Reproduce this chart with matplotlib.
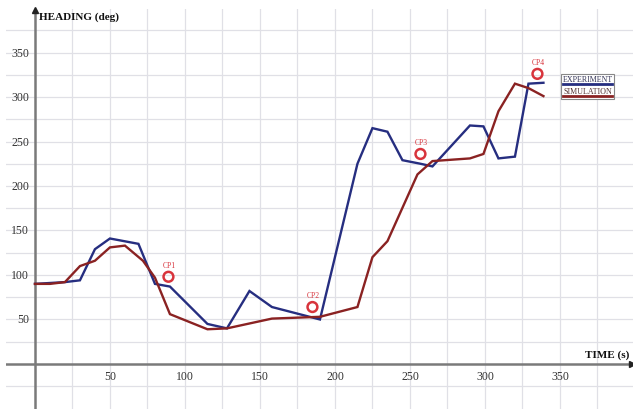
import matplotlib
matplotlib.use("Agg")
import matplotlib.pyplot as plt
from matplotlib.transforms import offset_copy
from matplotlib.patches import Rectangle

# Heading vs time for the experiment and the simulation
exp_time = [0, 20, 30, 40, 50, 69, 80, 90, 115, 128, 143, 158, 190, 215, 225, 235,
            245, 257, 265, 290, 299, 309, 320, 329, 339]
exp_heading = [90, 92, 94, 129, 141, 135, 90, 87, 45, 40, 82, 64, 50, 225, 265, 261,
               229, 225, 222, 268, 267, 231, 233, 315, 316]

sim_time = [0, 10, 20, 30, 40, 50, 60, 72, 80, 90, 115, 128, 158, 190, 215, 225,
            235, 255, 265, 290, 299, 309, 320, 329, 339]
sim_heading = [90, 90, 92, 110, 116, 131, 133, 116, 97, 56, 39, 40, 51, 53, 64, 120,
               138, 213, 228, 231, 236, 284, 315, 310, 301]

# Checkpoints
cp_names = ["CP1", "CP2", "CP3", "CP4"]
cp_time = [89, 185, 257, 335]
cp_heading = [98, 64, 236, 326]

x_ticks = [50, 100, 150, 200, 250, 300, 350]
y_ticks = [50, 100, 150, 200, 250, 300, 350]

BLUE = "#262e80"
RED = "#8a2222"
CP_RED = "#d8343c"
SERIF = "Liberation Serif"

fig = plt.figure(figsize=(6.33, 4.10), dpi=100)
ax = fig.add_axes([6 / 633, 0, 627 / 633, 400 / 410])
ax.set_xlim(-19.3, 398.7)
ax.set_ylim(-50.6, 398.9)
for s in ax.spines.values():
    s.set_visible(False)
ax.set_xticks([])
ax.set_yticks([])

# Grid every 25 units
for gx in range(25, 400, 25):
    ax.axvline(gx, color="#e0e0e6", lw=0.9, zorder=0)
for gy in range(-25, 400, 25):
    if gy != 0:
        ax.axhline(gy, color="#e0e0e6", lw=0.9, zorder=0)

# Axes through the origin with arrowheads
ax.axhline(0, color="#7a7a7a", lw=1.8, zorder=1)
ax.axvline(0, color="#7a7a7a", lw=1.8, zorder=1)
ax.plot([398.0], [0], marker=">", color="#222222", ms=5, clip_on=False, zorder=2)
ax.plot([0], [398.0], marker="^", color="#222222", ms=4, clip_on=False, zorder=2)

# Tick labels
xlab_tr = offset_copy(ax.transData, fig=fig, x=0, y=-12, units="dots")
for t in x_ticks:
    ax.text(t, 0, str(t), transform=xlab_tr, ha="center", va="center",
            fontsize=8.5, family=SERIF, color="#333333")
ylab_tr = offset_copy(ax.transData, fig=fig, x=-6, y=0, units="dots")
for v in y_ticks:
    ax.text(0, v, str(v), transform=ylab_tr, ha="right", va="center",
            fontsize=8.5, family=SERIF, color="#333333")

# Axis titles
ax.text(3, 391, "HEADING (deg)", ha="left", va="center", fontsize=8,
        family=SERIF, fontweight="bold", color="#111111")
ax.text(396, 11, "TIME (s)", ha="right", va="center", fontsize=8,
        family=SERIF, fontweight="bold", color="#111111")

# Series
ax.plot(exp_time, exp_heading, color=BLUE, lw=1.7, zorder=3,
        solid_joinstyle="miter")
ax.plot(sim_time, sim_heading, color=RED, lw=1.7, zorder=3,
        solid_joinstyle="miter")

# Checkpoint markers
ax.scatter(cp_time, cp_heading, s=50, facecolors="none", edgecolors=CP_RED,
           linewidths=1.8, zorder=4)
cp_tr = offset_copy(ax.transData, fig=fig, x=1, y=12, units="dots")
for name, t, h in zip(cp_names, cp_time, cp_heading):
    ax.text(t, h, name, transform=cp_tr, ha="center", va="center",
            fontsize=5.5, family=SERIF, color=CP_RED)

# Legend box
lx0 = (559 - 35) / 1.493
lx1 = (611 - 35) / 1.493
ly0 = (365.5 - 100) / 0.89
ly1 = (365.5 - 75) / 0.89
ax.add_patch(Rectangle((lx0, ly0), lx1 - lx0, ly1 - ly0, facecolor="white",
                       edgecolor="#888888", lw=0.8, zorder=5))
ax.text((lx0 + lx1) / 2, (365.5 - 80) / 0.89, "EXPERIMENT", ha="center",
        va="center", fontsize=5.8, family=SERIF, color="#333355", zorder=6)
ax.plot([lx0 + 1, lx1 - 1], [(365.5 - 85.5) / 0.89] * 2, color=BLUE, lw=2.0,
        zorder=6)
ax.text((lx0 + lx1) / 2, (365.5 - 92) / 0.89, "SIMULATION", ha="center",
        va="center", fontsize=5.8, family=SERIF, color="#553333", zorder=6)
ax.plot([lx0 + 1, lx1 - 1], [(365.5 - 97.5) / 0.89] * 2, color=RED, lw=2.0,
        zorder=6)

fig.savefig("out.png", dpi=100)
